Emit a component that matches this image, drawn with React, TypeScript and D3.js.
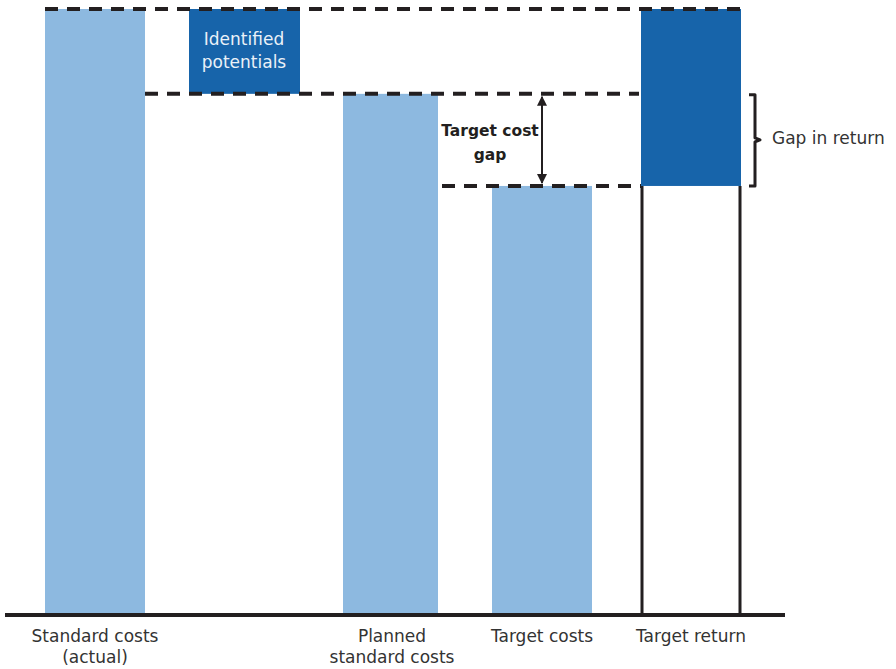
import React from "react";
import * as d3 from "d3";

const categories = ["Standard costs (actual)", "Identified potentials", "Planned standard costs", "Target costs", "Target return"];
const axisLabels = [["Standard costs", "(actual)"], [], ["Planned", "standard costs"], ["Target costs"], ["Target return"]];
const standardActual = 100;
const plannedStandard = 86;
const targetCosts = 70.8;
const targetReturnTop = 100;

const W = 896, H = 669;
const LIGHT = "#8db9e0";
const DARK = "#1764aa";
const INK = "#231f20";
const FONT = "'DejaVu Sans', 'Open Sans', sans-serif";

export default function App() {
  const y = d3.scaleLinear().domain([0, 100]).range([615, 9]);
  const x = d3.scalePoint<string>().domain(categories).range([95, 691]);
  const bw = 100;
  const left = (c: string) => (x(c) as number) - bw / 2;
  const right = (c: string) => (x(c) as number) + bw / 2;

  const [cA, cI, cP, cT, cR] = categories;
  const yTop = y(standardActual);
  const yPlan = y(plannedStandard);
  const yTarget = y(targetCosts);
  const y0 = y(0);
  const arrowX = x(cT) as number;
  const braceX = right(cR) + 14;
  const braceMid = (yPlan + yTarget) / 2;
  const planLeft = left(cP);
  const planRight = planLeft + 95;
  const gapTextX = (planRight + arrowX) / 2;

  return (
    <svg width={W} height={H} style={{ position: "absolute", left: 0, top: 0, background: "#fff" }}>
      <defs>
        <marker id="ah" viewBox="0 0 10 10" refX="9" refY="5" markerWidth="5" markerHeight="5" orient="auto-start-reverse">
          <path d="M0,0 L10,5 L0,10 z" fill={INK} />
        </marker>
      </defs>
      {/* bars */}
      <rect x={left(cA)} y={yTop} width={bw} height={y0 - yTop} fill={LIGHT} />
      <rect x={left(cI) - 5} y={yTop} width={bw + 11} height={yPlan - yTop} fill={DARK} />
      <rect x={planLeft} y={yPlan} width={planRight - planLeft} height={y0 - yPlan} fill={LIGHT} />
      <rect x={left(cT)} y={yTarget} width={bw} height={y0 - yTarget} fill={LIGHT} />
      <rect x={left(cR)} y={y(targetReturnTop)} width={bw} height={yTarget - y(targetReturnTop)} fill={DARK} />
      {/* target return outline */}
      <line x1={left(cR) + 1} x2={left(cR) + 1} y1={yTarget} y2={y0} stroke={INK} strokeWidth={3} />
      <line x1={right(cR) - 1} x2={right(cR) - 1} y1={yTarget} y2={y0} stroke={INK} strokeWidth={3} />
      {/* dashed lines */}
      <line x1={left(cA)} x2={right(cR)} y1={yTop} y2={yTop} stroke={INK} strokeWidth={4} strokeDasharray="13 9" />
      <line x1={right(cA)} x2={left(cR) - 2} y1={yPlan} y2={yPlan} stroke={INK} strokeWidth={4} strokeDasharray="13 9" />
      <line x1={planRight + 4} x2={left(cR)} y1={yTarget} y2={yTarget} stroke={INK} strokeWidth={4} strokeDasharray="13 9" />
      {/* baseline */}
      <line x1={5} x2={785} y1={y0} y2={y0} stroke={INK} strokeWidth={4} />
      {/* arrow */}
      <line x1={arrowX} x2={arrowX} y1={yPlan + 3} y2={yTarget - 3} stroke={INK} strokeWidth={2} markerStart="url(#ah)" markerEnd="url(#ah)" />
      <text textAnchor="middle" fontFamily={FONT} fontWeight="bold" fontSize={15.5} fill={INK}>
        <tspan x={gapTextX} y={136}>Target cost</tspan>
        <tspan x={gapTextX} y={160}>gap</tspan>
      </text>
      {/* brace */}
      <path
        d={`M${braceX - 6},${yPlan + 1} L${braceX},${yPlan + 1} L${braceX},${braceMid - 2} L${braceX + 5},${braceMid} L${braceX},${braceMid + 2} L${braceX},${yTarget} L${braceX - 6},${yTarget}`}
        fill="none" stroke={INK} strokeWidth={3} strokeLinejoin="round" />
      <text x={772} y={144} fontFamily={FONT} fontSize={17} fill="#333">Gap in return</text>
      {/* identified potentials label */}
      <text textAnchor="middle" fontFamily={FONT} fontSize={17} fill="#eaf1f8">
        <tspan x={x(cI) as number} y={45}>Identified</tspan>
        <tspan x={x(cI) as number} y={68}>potentials</tspan>
      </text>
      {/* axis labels */}
      {categories.map((c, i) => (
        <text key={c} textAnchor="middle" fontFamily={FONT} fontSize={17} fill="#333">
          {axisLabels[i].map((l, j) => (
            <tspan key={j} x={(x(c) as number) - (i === 2 ? 1 : 0)} y={642 + j * 21}>{l}</tspan>
          ))}
        </text>
      ))}
    </svg>
  );
}
